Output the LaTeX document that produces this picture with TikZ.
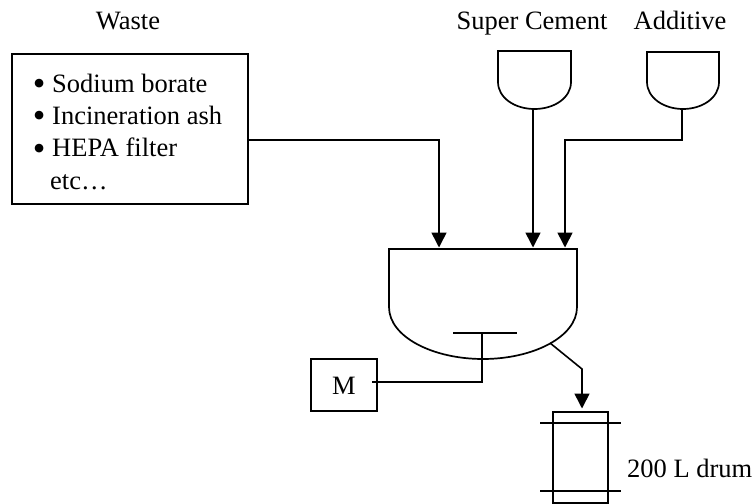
\documentclass[tikz,border=0pt]{standalone}
\usepackage{fontspec}
\setmainfont{Liberation Serif}
\usetikzlibrary{arrows.meta}
\tikzset{
  x=1pt,y=-1pt,
  wire/.style={line width=1.6pt,line join=miter},
  arrowwire/.style={wire,-{Triangle[length=15pt,width=15pt]}},
  label/.style={inner sep=0pt,anchor=base,font=\fontsize{26.5}{32.4}\selectfont},
  item/.style={label,anchor=base west},
  boxed/.style={draw,line width=1.7pt,inner sep=0pt,rectangle},
  vessel/.style={draw,line width=1.7pt,line join=miter}
}
\newcommand{\bul}{\makebox[19.3pt][l]{\raisebox{-3.5pt}{\fontsize{36}{36}\selectfont\textbullet}}}
\begin{document}
\begin{tikzpicture}
\useasboundingbox (0,0) rectangle (754,503);
\node[label] (wastelabel) at (128,30) {Waste};
\node[label] (cementlabel) at (532,30) {Super Cement};
\node[label] (additivelabel) at (680,30) {Additive};
\node[boxed,minimum width=236pt,minimum height=150pt] (waste) at (130,129) {};
\node[item] (item1) at (32.7,92) {\bul Sodium borate};
\node[item] (item2) at (32.7,124.4) {\bul Incineration ash};
\node[item] (item3) at (32.7,156.8) {\bul HEPA filter};
\node[item] (item4) at (50,189) {etc\ldots};
\coordinate (wasteout) at (247,140);
% hoppers
\draw[vessel] (498,51) -- (498,82) .. controls (498,98) and (515,109) .. (534.5,109) .. controls (554,109) and (571,98) .. (571,82) -- (571,51) -- cycle;
\coordinate (cementout) at (533,109);
\draw[vessel] (647,52) -- (647,82) .. controls (647,98) and (664,109) .. (683,109) .. controls (702,109) and (719,98) .. (719,82) -- (719,52) -- cycle;
\coordinate (additiveout) at (682,109);
% mixer
\draw[vessel] (389,249) -- (389,307) .. controls (389,337) and (433,359) .. (483,359) .. controls (533,359) and (577,337) .. (577,307) -- (577,249) -- cycle;
\coordinate (inA) at (439,247.5);
\coordinate (inB) at (533,247.5);
\coordinate (inC) at (565,247.5);
\coordinate (mixout) at (550,343);
\coordinate (pl) at (453,333);
\coordinate (pr) at (517,333);
\coordinate (pc) at (482,333);
\node[boxed,minimum width=66pt,minimum height=52pt] (motor) at (344,385) {};
\node[label] (motortext) at (344,394) {M};
\coordinate (motorin) at (372,382);
% drum
\node[boxed,minimum width=55pt,minimum height=91pt] (drum) at (580.5,457.5) {};
\coordinate (dt1) at (540,423); \coordinate (dt2) at (621,423);
\coordinate (db1) at (540,491); \coordinate (db2) at (621,491);
\coordinate (drumin) at (582,408.5);
\node[label,anchor=base west] (drumlabel) at (627,477) {200 L drum};
% connectors
\draw[arrowwire] (wasteout) -| (inA);
\draw[arrowwire] (cementout) -- (inB);
\draw[arrowwire] (additiveout) |- (565,140) -- (inC);
\draw[wire] (pl) -- (pr);
\draw[wire] (pc) |- (motorin);
\draw[arrowwire] (mixout) -- (582,369) -- (drumin);
\draw[wire] (dt1) -- (dt2);
\draw[wire] (db1) -- (db2);
\end{tikzpicture}
\end{document}
